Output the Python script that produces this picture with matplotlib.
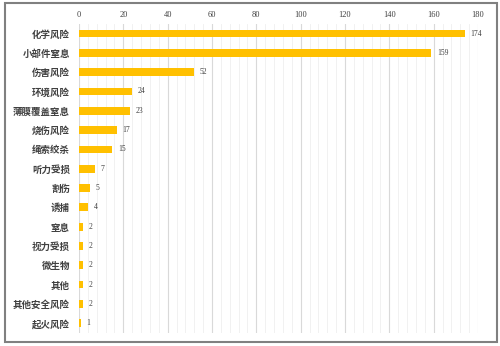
import matplotlib.pyplot as plt
from matplotlib.patches import Rectangle
from matplotlib.ticker import MultipleLocator

plt.rcParams['font.family'] = ['Noto Sans CJK SC', 'DejaVu Sans']

categories = ['化学风险', '小部件窒息', '伤害风险', '环境风险', '薄膜覆盖窒息', '烧伤风险',
              '绳索绞杀', '听力受损', '割伤', '诱捕', '窒息', '视力受损', '微生物',
              '其他', '其他安全风险', '起火风险']
values = [174, 159, 52, 24, 23, 17, 15, 7, 5, 4, 2, 2, 2, 2, 2, 1]

bar_color = '#FFC000'
text_color = '#404040'

fig = plt.figure(figsize=(5, 3.46), dpi=100)
ax = fig.add_axes([0.158, 0.038, 0.798, 0.893])

y = list(range(len(categories)))
ax.barh(y, values, height=0.4, color=bar_color, zorder=3)
for yi, v in zip(y, values):
    ax.text(v + 2.5, yi, str(v), va='center', ha='left', fontsize=5.5,
            color=text_color, family='Liberation Serif')

ax.set_ylim(len(categories) - 0.5, -0.5)
ax.set_xlim(0, 180)
ax.set_yticks(y)
ax.set_yticklabels(categories, fontsize=6.8, color=text_color, fontweight='bold')
ax.xaxis.set_major_locator(MultipleLocator(20))
ax.xaxis.set_minor_locator(MultipleLocator(4))
ax.xaxis.tick_top()
ax.tick_params(axis='x', which='both', length=0, labelsize=6, colors=text_color, pad=3.5)
ax.tick_params(axis='y', length=0, pad=6.5)
for lbl in ax.get_xticklabels():
    lbl.set_family('Liberation Serif')

ax.grid(axis='x', which='major', color='#d9d9d9', linewidth=0.8, zorder=0)
ax.grid(axis='x', which='minor', color='#efefef', linewidth=0.6, zorder=0)
for s in ax.spines.values():
    s.set_visible(False)

fig.patches.append(Rectangle((0.009, 0.012), 0.984, 0.978, transform=fig.transFigure,
                             fill=False, edgecolor='#808080', linewidth=1.5))

fig.savefig('out.png', dpi=100)
